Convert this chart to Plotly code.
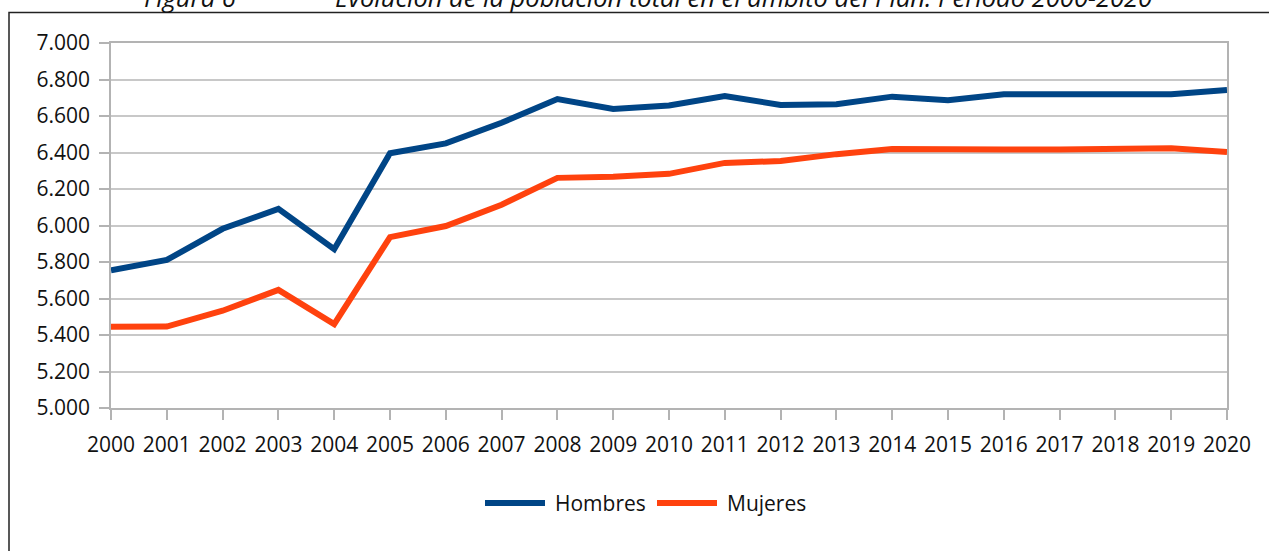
import plotly.graph_objects as go

years = list(range(2000, 2021))
hombres = [5755, 5811, 5982, 6091, 5870, 6396, 6450, 6563, 6693, 6638, 6658,
           6710, 6660, 6665, 6706, 6687, 6719, 6719, 6724, 6719, 6743]
mujeres = [5445, 5446, 5533, 5647, 5460, 5936, 5997, 6114, 6261, 6267, 6283,
           6343, 6353, 6391, 6419, 6414, 6417, 6417, 6420, 6423, 6403]
series_names = ["Hombres", "Mujeres"]
series_colors = ["#004586", "#ff420e"]
title_label = "Figura 6"
title_text = "Evolución de la población total en el ámbito del Plan. Período 2000-2020"

FONT = "Open Sans"
TXT = "#111111"

W, H = 1269, 551
L, R, T, B = 111, 42, 43, 143
pw, ph = W - L - R, H - T - B


def px_x(p):  # window pixel -> paper x
    return (p - L) / pw


def px_y(p):  # window pixel -> paper y
    return (H - B - p) / ph


fig = go.Figure()
for name, vals, col in zip(series_names, [hombres, mujeres], series_colors):
    fig.add_trace(go.Scatter(x=years, y=vals, name=name, mode="lines",
                             line=dict(color=col, width=6), showlegend=False))

fig.update_layout(
    width=W, height=H,
    margin=dict(l=L, r=R, t=T, b=B, pad=0),
    paper_bgcolor="white", plot_bgcolor="white",
    separators=",.",
    font=dict(family=FONT, size=21, color=TXT),
    showlegend=False,
    xaxis=dict(range=[2000, 2020], tickmode="array", tickvals=years,
               ticktext=[str(y) for y in years],
               showgrid=False, showline=True, linecolor="#b3b3b3", linewidth=1.5,
               mirror=True, ticks="outside", ticklen=10, tickcolor="#b3b3b3",
               tickwidth=1.5, ticklabelstandoff=7, zeroline=False,
               tickfont=dict(family=FONT, size=21, color=TXT)),
    yaxis=dict(range=[5000, 7000], dtick=200, tick0=5000, tickformat=",.0f",
               showgrid=True, gridcolor="#c8c8c8", gridwidth=1.5,
               showline=True, linecolor="#b3b3b3", linewidth=1.5, mirror=True,
               ticks="outside", ticklen=10, tickcolor="#b3b3b3", tickwidth=1.5,
               ticklabelstandoff=5, zeroline=False,
               tickfont=dict(family=FONT, size=21, color=TXT)),
)

# outer frame (top and left edges visible)
fig.add_shape(type="rect", xref="paper", yref="paper",
              x0=px_x(9), x1=px_x(1300), y0=px_y(600), y1=px_y(12.5),
              line=dict(color="#222222", width=1.5), fillcolor="rgba(0,0,0,0)",
              layer="below")

# legend drawn as line samples + labels
leg_y = px_y(503)
leg_items = [(485, 545, 553), (657, 717, 725)]
for (x0, x1, tx), name, col in zip(leg_items, series_names, series_colors):
    fig.add_shape(type="line", xref="paper", yref="paper",
                  x0=px_x(x0), x1=px_x(x1), y0=leg_y, y1=leg_y,
                  line=dict(color=col, width=6))
    fig.add_annotation(text=name, xref="paper", yref="paper",
                       x=px_x(tx), xanchor="left", y=leg_y, yanchor="middle",
                       showarrow=False, font=dict(family=FONT, size=21, color=TXT))

# title (partially above the visible page, as in the source)
TSIZE = 25.5
fig.add_annotation(text=title_label, xref="paper", yref="paper",
                   x=px_x(142), xanchor="left", y=px_y(-3), yanchor="middle",
                   showarrow=False,
                   font=dict(family=FONT, size=TSIZE, color=TXT, style="italic"))
fig.add_annotation(text=title_text, xref="paper", yref="paper",
                   x=px_x(333), xanchor="left", y=px_y(-3), yanchor="middle",
                   showarrow=False,
                   font=dict(family=FONT, size=TSIZE, color=TXT, style="italic"))

fig.write_html(
    "out.html",
    config={"displayModeBar": False},
    post_script="document.body.style.margin='0';document.body.style.overflow='hidden';",
)
